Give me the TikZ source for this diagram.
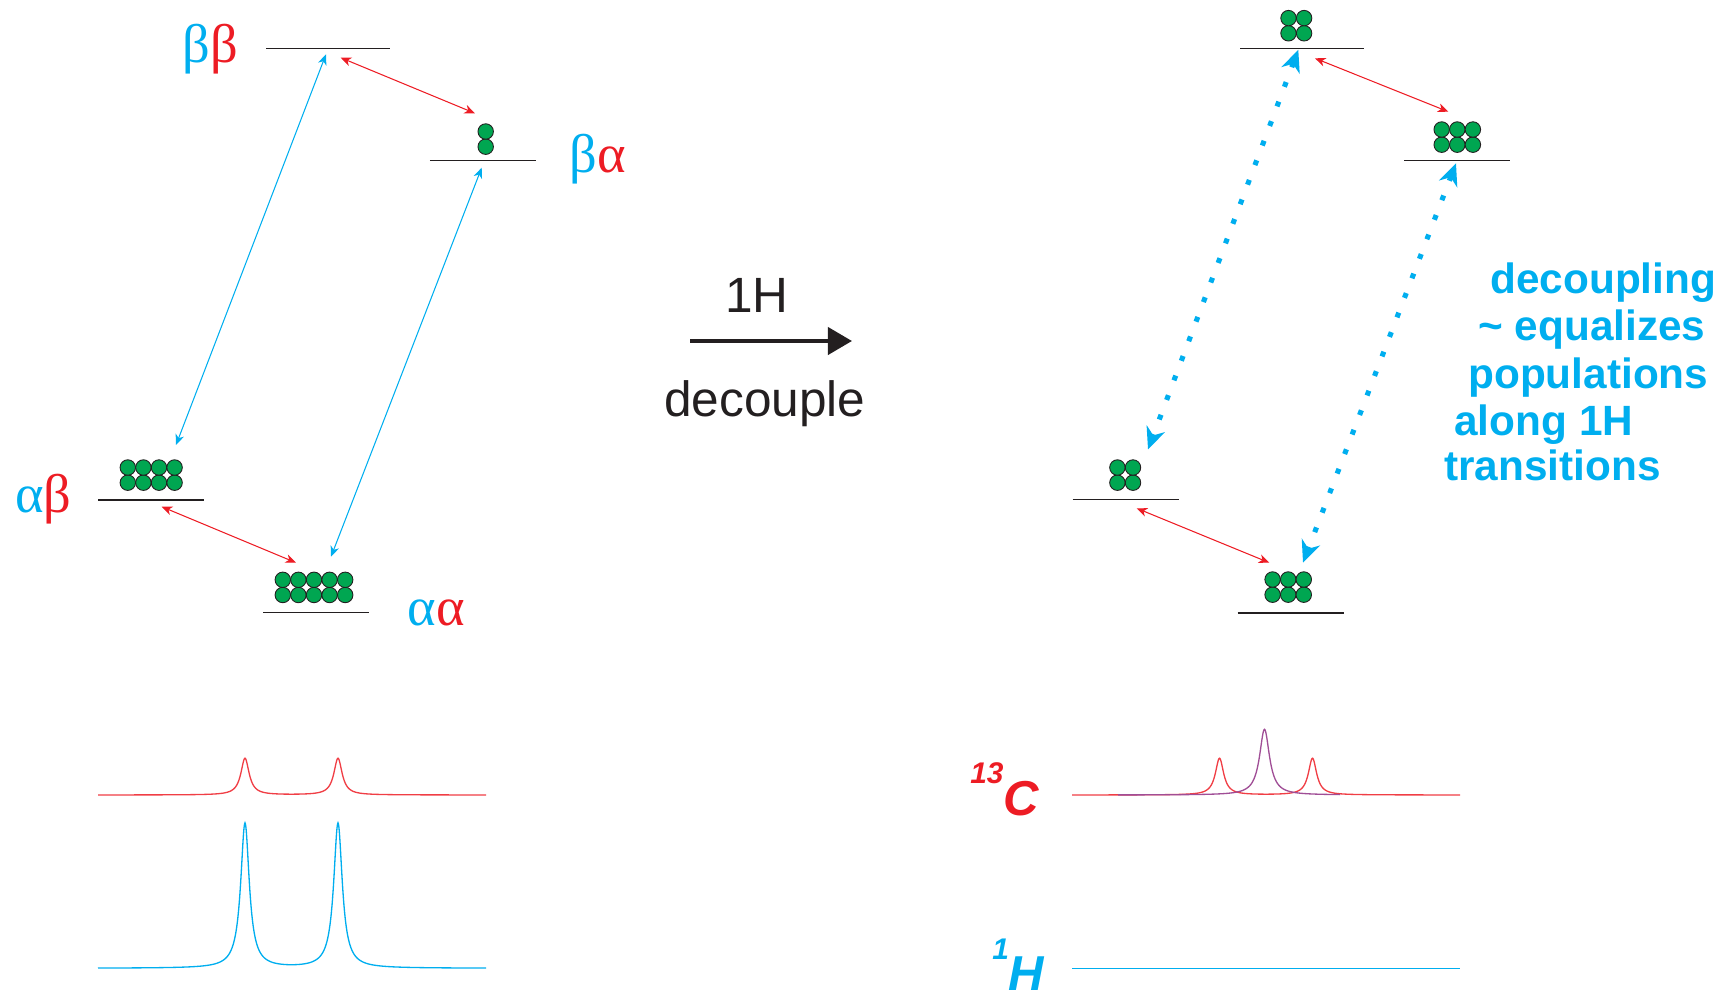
\documentclass[tikz,border=0pt]{standalone}
\usepackage{fontspec}
\setmainfont{Liberation Sans}
\newfontfamily\greekfont{Liberation Serif}
\usetikzlibrary{arrows.meta}
\definecolor{spincyan}{RGB}{0,174,239}
\definecolor{spinred}{RGB}{237,28,36}
\definecolor{popgreen}{RGB}{0,166,81}
\definecolor{inkgray}{RGB}{35,31,32}
\definecolor{mauve}{RGB}{160,78,150}

% green population dots: centre x, lowest row y, columns, rows
\newcommand{\popdots}[4]{%
  \foreach \col in {1,...,#3}{
    \foreach \row in {1,...,#4}{
      \filldraw[popdot] ({#1+(\col-(#3+1)/2)*15.6},{#2-(\row-1)*15.2}) circle (4.4pt);
    }
  }
}

\begin{document}
\begin{tikzpicture}[x=0.02cm, y=-0.02cm,
    declare function={lor(\t,\c,\h,\w)=\h/(1+((\t-\c)/\w)*((\t-\c)/\w));},
    statebar/.style={inkgray, line width=0.7pt},
    popdot/.style={fill=popgreen, draw=inkgray, line width=0.5pt},
    thintrans/.style={line width=0.6pt, {Stealth[length=6pt,width=5pt,inset=1.8pt]}-{Stealth[length=6pt,width=5pt,inset=1.8pt]}},
    sattrans/.style={spincyan, line width=2.9pt, dash pattern=on 2.9pt off 9pt,
        {Stealth[length=12.5pt,width=11pt,inset=4pt]}-{Stealth[length=12.5pt,width=11pt,inset=4pt]}},
    greeklabel/.style={inner sep=0pt, anchor=base, font=\greekfont\fontsize{31}{33}\selectfont},
    midtext/.style={inner sep=0pt, anchor=base, text=inkgray, font=\fontsize{28.2}{30}\selectfont},
    notetext/.style={inner sep=0pt, anchor=base west, text=spincyan, font=\bfseries\fontsize{24.1}{26}\selectfont},
    isolabel/.style={inner sep=0pt, anchor=base west, font=\bfseries\itshape\fontsize{27.9}{30}\selectfont},
    spec/.style={line width=0.75pt}
]
\useasboundingbox (0,0) rectangle (1732,997);

% energy levels, coupled
\coordinate (bbOld) at (328.3,48.3);
\coordinate (baOld) at (482.8,160.3);
\coordinate (abOld) at (151,500);
\coordinate (aaOld) at (316.3,612.7);
\draw[statebar] (bbOld) +(-62,0) -- +(62,0);
\draw[statebar] (baOld) +(-53,0) -- +(53,0);
\draw[statebar] (abOld) +(-53,0) -- +(53,0);
\draw[statebar] (aaOld) +(-53,0) -- +(53,0);

\node[greeklabel] (bbName) at (210,63) {\textcolor{spincyan}{β}\textcolor{spinred}{β}};
\node[greeklabel] (baName) at (598,173) {\textcolor{spincyan}{β}\textcolor{spinred}{α}};
\node[greeklabel] (abName) at (43.5,512) {\textcolor{spincyan}{α}\textcolor{spinred}{β}};
\node[greeklabel] (aaName) at (436,625) {\textcolor{spincyan}{α}\textcolor{spinred}{α}};

\popdots{485.7}{146.7}{1}{2}
\popdots{151.2}{482.7}{4}{2}
\popdots{314}{595}{5}{2}

\draw[thintrans, spincyan] ([shift={(-2.3,6)}]bbOld) -- ([shift={(25,-55)}]abOld);
\draw[thintrans, spincyan] ([shift={(-1.1,7.4)}]baOld) -- ([shift={(14.7,-56)}]aaOld);
\draw[thintrans, spinred] ([shift={(12.4,9.4)}]bbOld) -- ([shift={(-7.8,-47)}]baOld);
\draw[thintrans, spinred] ([shift={(10.7,6.7)}]abOld) -- ([shift={(-20.3,-50)}]aaOld);

% decoupling arrow
\coordinate (decStart) at (690,341);
\coordinate (decEnd) at (852,341);
\draw[inkgray, line width=2.3pt, -{Triangle[length=13.7pt,width=15.4pt]}] (decStart) -- (decEnd);
\node[midtext] (hName) at (757,312) {1H};
\node[midtext] (decName) at (765,416) {decouple};

% energy levels, decoupled
\coordinate (bbNew) at (1302.3,48.3);
\coordinate (baNew) at (1457,160.3);
\coordinate (abNew) at (1125.5,499.7);
\coordinate (aaNew) at (1290.5,613);
\draw[statebar] (bbNew) +(-62,0) -- +(62,0);
\draw[statebar] (baNew) +(-53,0) -- +(53,0);
\draw[statebar] (abNew) +(-53,0) -- +(53,0);
\draw[statebar] (aaNew) +(-53,0) -- +(53,0);

\popdots{1296.3}{33.3}{2}{2}
\popdots{1457.3}{144.7}{3}{2}
\popdots{1125.2}{482.7}{2}{2}
\popdots{1288.2}{594.7}{3}{2}

\draw[sattrans] ([shift={(-4,1.5)}]bbNew) -- ([shift={(22.5,-50.3)}]abNew);
\draw[sattrans] ([shift={(-1,3)}]baNew) -- ([shift={(12.5,-50.3)}]aaNew);
\draw[thintrans, spinred] ([shift={(12.7,10)}]bbNew) -- ([shift={(-8.7,-48.6)}]baNew);
\draw[thintrans, spinred] ([shift={(11.2,8.6)}]abNew) -- ([shift={(-21.2,-50.3)}]aaNew);

\node[notetext] (note1) at (1490,293) {decoupling};
\node[notetext] (note2) at (1478,340) {\textasciitilde\ equalizes};
\node[notetext] (note3) at (1468,388) {populations};
\node[notetext] (note4) at (1454,435) {along 1H};
\node[notetext] (note5) at (1444,480) {transitions};

% spectra
\draw[spec, spinred!85] plot[domain=98:486, samples=777]
    (\x,{795-lor(\x,245,36.7,5)-lor(\x,338,36.7,5)});
\draw[spec, spincyan] plot[domain=98:486, samples=777]
    (\x,{968.3-lor(\x,245,145,5.2)-lor(\x,338,145,5.2)});
\draw[spec, spinred!85] plot[domain=1072:1460, samples=777]
    (\x,{795-lor(\x,1219.5,36.7,5)-lor(\x,1312.5,36.7,5)});
\draw[spec, mauve] plot[domain=1118:1340, samples=445]
    (\x,{795-lor(\x,1264.5,65.7,6)});
\draw[spec, spincyan] (1072,968.3) -- (1460,968.3);

\node[isolabel, text=spinred] (cIso) at (970,815) {\raisebox{18.2pt}{\fontsize{17}{17}\selectfont 13}C};
\node[isolabel, text=spincyan] (hIso) at (992,990) {\raisebox{17.6pt}{\fontsize{17}{17}\selectfont 1}H};
\end{tikzpicture}
\end{document}
